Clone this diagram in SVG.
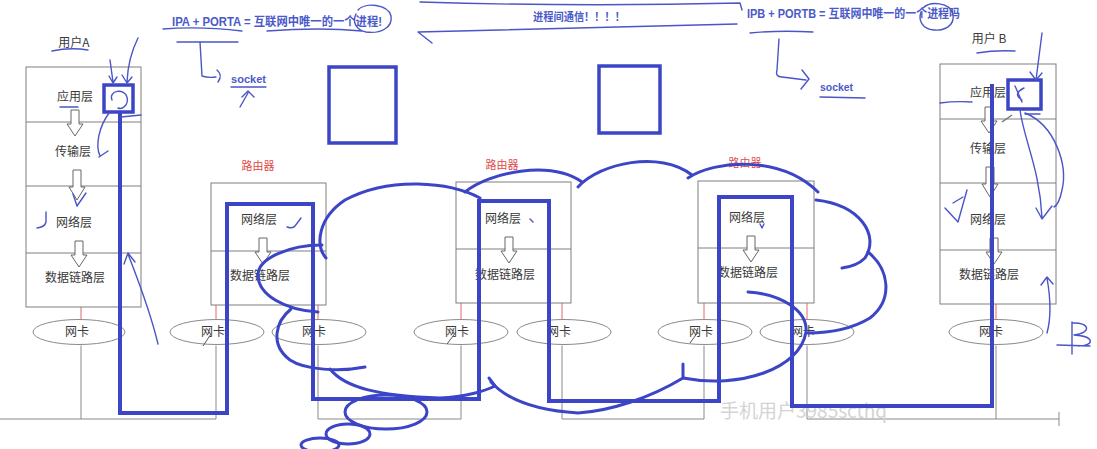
<svg xmlns="http://www.w3.org/2000/svg" xmlns:xlink="http://www.w3.org/1999/xlink" width="1097" height="449" viewBox="0 0 1097 449">
<style>
.bx{fill:none;stroke:#7f7f7f;stroke-width:1}
.lbl{font-family:"Noto Sans CJK SC","Noto Sans",sans-serif;font-size:12px;fill:#3a3a3a;text-anchor:middle}
.rd{fill:#e04848}
.nic{fill:#fff;stroke:#8a8a8a;stroke-width:1}
.bus{fill:none;stroke:#8a8a8a;stroke-width:1}
.rl{stroke:#e06868;stroke-width:1}
.flow{fill:none;stroke:#3b45c6;stroke-width:4;stroke-linejoin:miter}
.cl{fill:none;stroke:#3b45c6;stroke-width:3;stroke-linecap:round}
.hd{fill:none;stroke:#4a55c8;stroke-width:1.4;stroke-linecap:round;stroke-linejoin:round}
.bt{font-family:"Liberation Sans","Noto Sans CJK SC",sans-serif;font-weight:bold;font-size:12px;fill:#4b5ac8}
.ar{fill:#fff;stroke:#666;stroke-width:1}
.wm{font-family:"Noto Sans CJK SC","Noto Sans",sans-serif;font-size:19px;fill:#d4d4d4}
</style>
<defs>
<path id="da" class="ar" d="M-4,0 h8 v14 h4 l-8,12 l-8,-12 h4 z"/>
<path id="dl" class="ar" d="M-4,0 h8 v17 h4 l-8,13 l-8,-13 h4 z"/>
</defs>

<g id="connectors">
<path class="rl" d="M81,307V320.5M216,305V320.5M318,305V320.5M461,303V320.5M562,303V320.5M704,303V320.5M807,303V320.5M996,304V320.5"/>
<path class="bus" d="M81,345.5V419M216,345.5V419M0,419H216"/>
<path class="bus" d="M318,345.5V419H461V345.5"/>
<path class="bus" d="M562,345.5V419H704V345.5"/>
<path class="bus" d="M807,345.5V419H1059M996,345.5V419M1059,412V426"/>
</g>

<g id="hostA">
<rect class="bx" x="26" y="67" width="115" height="240"/>
<path class="bx" d="M26,122H141M26,186H141M26,253H141"/>
<text class="lbl" x="75" y="101">应用层</text>
<text class="lbl" x="73" y="156">传输层</text>
<text class="lbl" x="74" y="227">网络层</text>
<text class="lbl" x="75" y="282">数据链路层</text>
<use xlink:href="#da" x="75" y="110"/>
<use xlink:href="#dl" x="77" y="170"/>
<use xlink:href="#da" x="79" y="241"/>
<text class="lbl" x="74" y="47">用户A</text>
</g>
<g id="nicA"><ellipse class="nic" cx="79" cy="332" rx="46" ry="12.5"/><text class="lbl" x="77" y="336">网卡</text></g>

<g id="router1">
<text class="lbl rd" x="258" y="170" style="font-size:11px">路由器</text>
<rect class="bx" x="211" y="183" width="115" height="122"/>
<path class="bx" d="M211,251H326"/>
<text class="lbl" x="259" y="224">网络层</text>
<text class="lbl" x="260" y="280">数据链路层</text>
<use xlink:href="#da" x="263" y="238"/>
</g>
<g id="nicR1a"><ellipse class="nic" cx="217" cy="332" rx="47" ry="12.5"/><text class="lbl" x="213" y="336">网卡</text></g>
<g id="nicR1b"><ellipse class="nic" cx="319" cy="332" rx="47" ry="12.5"/><text class="lbl" x="314" y="336">网卡</text></g>

<g id="router2">
<text class="lbl rd" x="502" y="169" style="font-size:11px">路由器</text>
<rect class="bx" x="456" y="182" width="115" height="121"/>
<path class="bx" d="M456,249H571"/>
<text class="lbl" x="503" y="223">网络层</text>
<text class="lbl" x="505" y="279">数据链路层</text>
<use xlink:href="#da" x="509" y="237"/>
</g>
<g id="nicR2a"><ellipse class="nic" cx="461" cy="332" rx="47" ry="12.5"/><text class="lbl" x="457" y="336">网卡</text></g>
<g id="nicR2b"><ellipse class="nic" cx="564" cy="332" rx="47" ry="12.5"/><text class="lbl" x="559" y="336">网卡</text></g>

<g id="router3">
<text class="lbl rd" x="745" y="167" style="font-size:11px">路由器</text>
<rect class="bx" x="698" y="181" width="116" height="122"/>
<path class="bx" d="M698,248H814"/>
<text class="lbl" x="747" y="222">网络层</text>
<text class="lbl" x="748" y="277">数据链路层</text>
<use xlink:href="#da" x="751" y="236"/>
</g>
<g id="nicR3a"><ellipse class="nic" cx="705" cy="332" rx="47" ry="12.5"/><text class="lbl" x="701" y="336">网卡</text></g>
<g id="nicR3b"><ellipse class="nic" cx="807" cy="332" rx="47" ry="12.5"/><text class="lbl" x="803" y="336">网卡</text></g>

<g id="hostB">
<rect class="bx" x="940" y="64" width="116" height="240"/>
<path class="bx" d="M940,119H1056M940,183H1056M940,250H1056"/>
<text class="lbl" x="988" y="97">应用层</text>
<text class="lbl" x="988" y="153">传输层</text>
<text class="lbl" x="988" y="224">网络层</text>
<text class="lbl" x="989" y="279">数据链路层</text>
<use xlink:href="#da" x="989" y="107"/>
<use xlink:href="#dl" x="990" y="167"/>
<use xlink:href="#da" x="994" y="238"/>
<text class="lbl" x="989" y="43">用户 B</text>
</g>
<g id="nicB"><ellipse class="nic" cx="996" cy="332" rx="47" ry="12.5"/><text class="lbl" x="991" y="336">网卡</text></g>

<path class="bus" d="M203,346L211,334M447,344L456,332M690,343L698,332" style="stroke:#555"/>

<text class="wm" x="720" y="418">手机用户3985scthq</text>

<g id="boxes">
<rect x="329" y="67" width="67" height="76" fill="none" stroke="#3b45c6" stroke-width="3.5"/>
<rect x="599" y="66" width="61" height="67" fill="none" stroke="#3b45c6" stroke-width="3.5"/>
<rect x="104" y="85" width="29" height="27" fill="none" stroke="#3b45c6" stroke-width="3.5"/>
<rect x="1008" y="80" width="33" height="29" fill="none" stroke="#3b45c6" stroke-width="3.5"/>
</g>

<g id="flow">
<path class="flow" d="M120,112V413H227V204H313V399H479V201H549V401H719V197H792V406H992V84"/>
</g>

<g id="cloud">
<path class="cl" d="M480,198C450,182 390,176 345,200C318,218 315,245 326,258"/>
<path class="cl" d="M322,245C290,245 258,258 258,275C258,295 285,310 318,312"/>
<path class="cl" d="M291,309C275,322 270,345 290,360C305,370 340,372 365,367"/>
<path class="cl" d="M330,369C345,388 380,396 440,398C465,397 485,391 495,386M489,378L495,386"/>
<path class="cl" d="M491,382C510,403 545,411 578,413C610,411 650,398 683,378M683,364L683,378"/>
<path class="cl" d="M683,378C740,389 800,369 806,332C808,310 780,294 748,292"/>
<path class="cl" d="M868,252C890,270 893,300 870,318C850,330 825,333 808,333"/>
<path class="cl" d="M816,200C860,205 880,235 865,258C858,265 850,267 842,268"/>
<path class="cl" d="M688,178C715,160 780,155 818,192"/>
<path class="cl" d="M578,187C600,163 660,150 692,175"/>
<path class="cl" d="M465,192C490,172 550,160 582,182"/>
<ellipse class="cl" cx="386" cy="412" rx="41" ry="17"/>
<ellipse class="cl" cx="348" cy="434" rx="22" ry="10"/>
<ellipse class="cl" cx="320" cy="445" rx="19" ry="7"/>
</g>

<g id="annotations">
<text class="bt" x="172" y="26" textLength="210" lengthAdjust="spacingAndGlyphs">IPA + PORTA = 互联网中唯一的一个进程!</text>
<text class="bt" x="533" y="21" textLength="92" lengthAdjust="spacingAndGlyphs" style="font-size:11px">进程间通信！！！！</text>
<text class="bt" x="747" y="18" textLength="213" lengthAdjust="spacingAndGlyphs">IPB + PORTB = 互联网中唯一的一个进程吗</text>
<text class="bt" x="231" y="83" textLength="35" lengthAdjust="spacingAndGlyphs" style="font-size:11px">socket</text>
<text class="bt" x="820" y="91" textLength="33" lengthAdjust="spacingAndGlyphs" style="font-size:11px">socket</text>
<path class="hd" d="M163,29Q200,26 242,31M267,31Q320,27 362,31"/>
<path class="hd" d="M358,10C365,2 388,4 391,16C393,28 380,34 366,32C356,30 352,22 356,14"/>
<path class="hd" d="M177,42H238M200,42L202,76Q208,78 216,77M217,70Q223,75 218,82"/>
<path class="hd" d="M231,87H266M240,107L248,93M242,97L248,91L254,97"/>
<path class="hd" d="M420,2Q580,7 740,3L742,10"/>
<path class="hd" d="M737,24Q600,28 418,32L432,43"/>
<path class="hd" d="M750,33Q780,30 813,32M779,39L777,70Q775,77 782,77L806,80M802,70L809,79L801,89"/>
<path class="hd" d="M923,8C930,1 950,2 953,14C955,26 944,31 934,30C922,29 918,20 921,12"/>
<path class="hd" d="M820,97L865,98"/>
<path class="hd" d="M52,51Q70,47 88,50M977,53Q995,50 1015,51"/>
<path class="hd" d="M60,107H78M940,103Q955,101 972,102"/>
<path class="hd" d="M110,60L113,82M109,76L113,83L117,77M138,38Q128,58 127,82M122,75L127,83L132,77"/>
<path class="hd" d="M112,100C108,90 125,88 127,97C129,105 122,110 118,108"/>
<path class="hd" d="M121,117L141,115"/>
<path class="hd" d="M109,113C99,127 95,145 100,156M99,157L108,151"/>
<path class="hd" d="M73,194L77,206L86,193M46,212V222Q45,227 37,228"/>
<path class="hd" d="M158,344C150,310 138,280 128,254M124,264L128,253L135,262"/>
<path class="hd" d="M287,227Q293,229 295,226L301,218M530,219L533,222M760,224L762,228L764,224"/>
<path class="hd" d="M945,208L958,222L967,190M953,203L963,197"/>
<path class="hd" d="M1042,33L1036,80M1030,72L1036,80L1042,73"/>
<path class="hd" d="M1015,86L1022,102M1024,88Q1012,94 1022,100"/>
<path class="hd" d="M1020,110C1024,140 1040,170 1042,218M1036,208L1042,219L1052,206"/>
<path class="hd" d="M1025,113C1055,125 1068,165 1062,190C1060,200 1058,205 1054,207"/>
<path class="hd" d="M1025,114H1040"/>
<path class="hd" d="M1047,333C1052,315 1050,295 1047,278M1041,285L1047,277L1053,284"/>
<path class="hd" d="M1072,322V354M1057,345L1090,346M1072,323C1090,322 1092,333 1074,335C1095,336 1095,346 1078,346"/>
<path d="M1002,122L1012,115" stroke="#777" stroke-width="1.5"/>
</g>
</svg>
